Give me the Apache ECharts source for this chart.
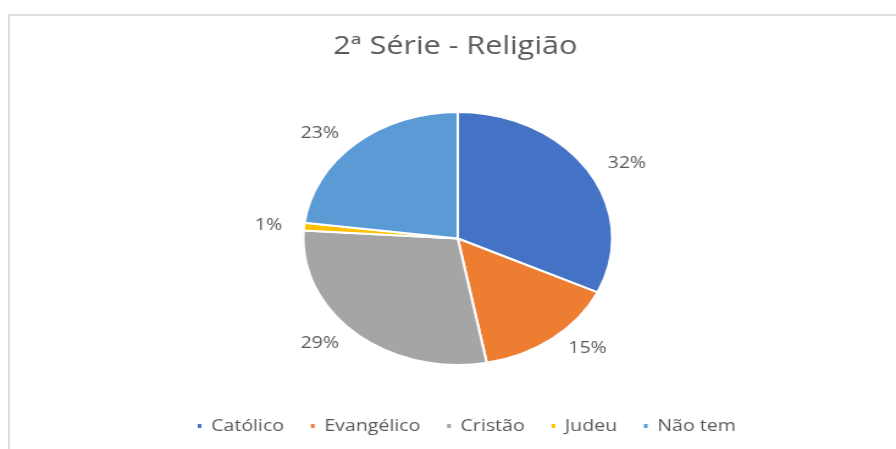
<!DOCTYPE html>
<html>
<head>
<meta charset="utf-8">
<script src="https://cdn.jsdelivr.net/npm/echarts@6/dist/echarts.min.js"></script>
<style>
  html, body { margin: 0; padding: 0; background: #fff; overflow: hidden; }
  #frame {
    position: absolute; left: 8px; top: 14px; width: 900px; height: 450px;
    border: 2px solid #dedede; box-sizing: border-box;
  }
  /* o print original está esticado na horizontal */
  #chart {
    position: absolute; left: 0; top: 0; width: 734px; height: 449px;
    transform: scaleX(1.2207); transform-origin: 0 0;
  }
</style>
</head>
<body>
<div id="frame"></div>
<div id="chart"></div>
<script>
const categories = ['Católico', 'Evangélico', 'Cristão', 'Judeu', 'Não tem']
const values = [32, 15, 29, 1, 23]
const colors = ['#4472C4', '#ED7D31', '#A5A5A5', '#FFC000', '#5B9BD5']

const chart = echarts.init(document.getElementById('chart'))
const pieData = categories.map((name, i) => {
  return { name: name, value: values[i], itemStyle: { color: colors[i] } }
})

const option = {
  animation: false,
  title: {
    text: '2ª Série - Religião',
    left: 368,
    textAlign: 'center',
    top: 29,
    textStyle: {
      fontFamily: 'Open Sans',
      fontSize: 25,
      fontWeight: 'normal',
      color: '#595959'
    }
  },
  legend: {
    data: categories,
    left: 155,
    top: 413,
    icon: 'rect',
    itemWidth: 5,
    itemHeight: 6,
    itemGap: 20,
    textStyle: {
      fontFamily: 'Open Sans',
      fontSize: 16,
      color: '#595959',
      padding: [0, 0, 0, 2]
    }
  },
  series: [
    {
      type: 'pie',
      center: [375, 238.5],
      radius: 126.5,
      startAngle: 90,
      clockwise: true,
      data: pieData,
      itemStyle: {
        borderColor: '#ffffff',
        borderWidth: 2
      },
      label: {
        show: true,
        position: 'outside',
        formatter: '{d}%',
        fontFamily: 'Open Sans',
        fontSize: 16,
        color: '#595959'
      },
      labelLine: {
        show: false,
        length: 13,
        length2: 0
      }
    }
  ]
}
chart.setOption(option)
</script>
</body>
</html>
